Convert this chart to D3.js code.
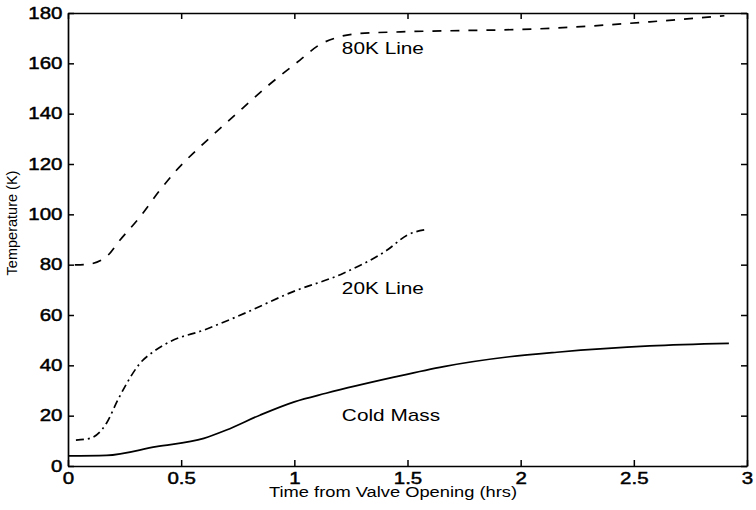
<!DOCTYPE html>
<html>
<head>
<meta charset="utf-8">
<script src="https://cdn.jsdelivr.net/npm/d3@7"></script>
<style>
  html, body { margin: 0; padding: 0; background: #fff; }
  svg { display: block; }
  text { font-family: "Liberation Sans", Arial, Helvetica, sans-serif; fill: #000; }
</style>
</head>
<body>
<svg id="chart" width="756" height="510"></svg>
<script>
// Time (hrs) and temperature (K) samples for each curve
const coldMassTime = [0, 0.17, 0.39, 0.6, 0.7, 0.85, 1.0, 1.14, 1.44, 1.66, 1.95, 2.16, 2.57, 2.92];
const coldMassTemp = [4, 4.2, 7.7, 11, 14.3, 20.3, 25.5, 28.9, 35.3, 39.5, 43.4, 45.2, 47.7, 48.7];

const line20Time = [0.035, 0.097, 0.17, 0.22, 0.26, 0.318, 0.377, 0.45, 0.6, 0.745, 0.995, 1.217, 1.41, 1.5, 1.585];
const line20Temp = [10.3, 11, 17, 26.2, 32.9, 40.8, 45.4, 49.4, 54, 59.3, 69.3, 76.6, 85.8, 91.8, 94];

const line80Time = [0.03, 0.083, 0.17, 0.23, 0.318, 0.407, 0.48, 0.6, 0.73, 0.878, 1.025, 1.11, 1.19, 1.29, 1.47, 2.13, 2.57, 2.9];
const line80Temp = [79.9, 80.1, 83.2, 89.8, 99, 109.7, 117.6, 128.2, 138.8, 150.7, 161.3, 167.3, 170.3, 171.9, 172.5, 173.9, 176.5, 178.9];

const xTicks = [0, 0.5, 1, 1.5, 2, 2.5, 3];
const yTicks = [0, 20, 40, 60, 80, 100, 120, 140, 160, 180];

const xTitle = "Time from Valve Opening (hrs)";
const yTitle = "Temperature (K)";

// Curve name labels with the (time, temperature) point where each label starts
const labelNames = ["80K Line", "20K Line", "Cold Mass"];
const labelTime = [1.21, 1.21, 1.21];
const labelTemp = [163.7, 68.3, 17.7];

const svg = d3.select("#chart");
const plotLeft = 68, plotRight = 747, plotTop = 13, plotBottom = 466;

const x = d3.scaleLinear().domain([0, 3]).range([plotLeft, plotRight]);
const y = d3.scaleLinear().domain([0, 180]).range([plotBottom, plotTop]);

const fmt = d => String(d);
const TICK = 6;

// Bottom axis with labels; ticks point into the plot
const gx = svg.append("g")
  .attr("transform", `translate(0,${plotBottom})`)
  .call(d3.axisBottom(x).tickValues(xTicks).tickFormat(fmt)
    .tickSizeInner(-TICK).tickSizeOuter(0).tickPadding(7));

// Left axis with labels
const gy = svg.append("g")
  .attr("transform", `translate(${plotLeft},0)`)
  .call(d3.axisLeft(y).tickValues(yTicks).tickFormat(fmt)
    .tickSizeInner(-TICK).tickSizeOuter(0).tickPadding(4.3));

[gx, gy].forEach(g => g.selectAll("text")
  .attr("font-size", 16)
  .attr("fill", "#000")
  .attr("stroke", "#000")
  .attr("stroke-width", 0.45)
  .attr("transform", "scale(1.28,1)"));

// Top and right axes: ticks only, closing the box
svg.append("g")
  .attr("transform", `translate(0,${plotTop})`)
  .call(d3.axisTop(x).tickValues(xTicks).tickFormat("")
    .tickSizeInner(-TICK).tickSizeOuter(0));
svg.append("g")
  .attr("transform", `translate(${plotRight},0)`)
  .call(d3.axisRight(y).tickValues(yTicks).tickFormat("")
    .tickSizeInner(-TICK).tickSizeOuter(0));

svg.selectAll(".domain").attr("stroke", "#000").attr("stroke-width", 1.7);
svg.selectAll(".tick line").attr("stroke", "#000").attr("stroke-width", 1.5);

// Curves
const line = d3.line()
  .x(d => x(d[0]))
  .y(d => y(d[1]))
  .curve(d3.curveMonotoneX);

const series = [
  { t: coldMassTime, v: coldMassTemp, dash: null },
  { t: line20Time, v: line20Temp, dash: "8,4,2,4" },
  { t: line80Time, v: line80Temp, dash: "9,9" }
];

series.forEach(s => {
  svg.append("path")
    .datum(s.t.map((t, i) => [t, s.v[i]]))
    .attr("fill", "none")
    .attr("stroke", "#000")
    .attr("stroke-width", 1.7)
    .attr("stroke-dasharray", s.dash)
    .attr("d", line);
});

// Curve name labels
labelNames.forEach((name, i) => {
  svg.append("text")
    .attr("transform", `translate(${x(labelTime[i])},${y(labelTemp[i])}) scale(1.3,1)`)
    .attr("font-size", 16)
    .text(name);
});

// Axis titles
svg.append("text")
  .attr("transform", `translate(393,497) scale(1.22,1)`)
  .attr("text-anchor", "middle")
  .attr("font-size", 15)
  .text(xTitle);

svg.append("text")
  .attr("transform", `translate(17,223) rotate(-90)`)
  .attr("text-anchor", "middle")
  .attr("font-size", 14.5)
  .text(yTitle);
</script>
</body>
</html>
